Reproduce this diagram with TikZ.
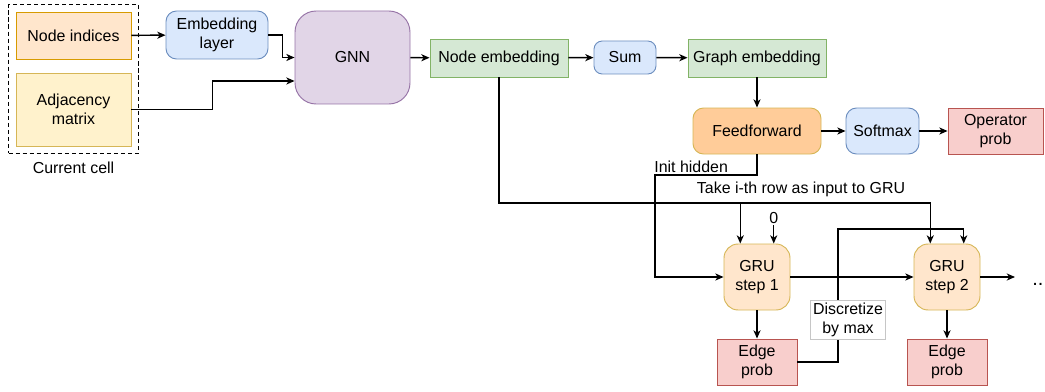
\documentclass[tikz,border=0pt]{standalone}
\usepackage{fontspec}
\setmainfont{Liberation Sans}
\usetikzlibrary{arrows.meta,positioning,fit,calc}

\definecolor{orfill}{HTML}{FFE6CC}
\definecolor{ordraw}{HTML}{D79B00}
\definecolor{yefill}{HTML}{FFF2CC}
\definecolor{yedraw}{HTML}{D6B656}
\definecolor{blfill}{HTML}{DAE8FC}
\definecolor{bldraw}{HTML}{6C8EBF}
\definecolor{pufill}{HTML}{E1D5E7}
\definecolor{pudraw}{HTML}{9673A6}
\definecolor{grfill}{HTML}{D5E8D4}
\definecolor{grdraw}{HTML}{82B366}
\definecolor{refill}{HTML}{F8CECC}
\definecolor{redraw}{HTML}{B85450}
\definecolor{fffill}{HTML}{FFCC99}

\begin{document}
\begin{tikzpicture}[
    x=0.3cm, y=0.3cm,
    font=\fontsize{13.6}{16.2}\selectfont,
    blk/.style={rectangle, draw, line width=0.8pt, align=center, inner sep=2pt},
    rblk/.style={blk, rounded corners=9pt},
    orng/.style={fill=orfill, draw=ordraw},
    yell/.style={fill=yefill, draw=yedraw},
    blue/.style={fill=blfill, draw=bldraw},
    purp/.style={fill=pufill, draw=pudraw},
    gren/.style={fill=grfill, draw=grdraw},
    redd/.style={fill=refill, draw=redraw},
    cellbox/.style={rectangle, draw, line width=1.2pt, dash pattern=on 3.5pt off 2.5pt},
    lbl/.style={inner sep=1pt},
    arr/.style={-{Stealth[length=7pt, width=6pt, inset=2pt]}, line width=1.25pt},
  ]
  \useasboundingbox (0,0) rectangle (104.5,39.1);

  % ===== Inputs =====
  \node[blk, orng, minimum width=3.45cm, minimum height=1.41cm] (idx) at (7.35,35.55) {Node indices};
  \node[blk, yell, minimum width=3.45cm, minimum height=2.19cm] (adj) at (7.35,28.15) {Adjacency\\matrix};
  \node[cellbox, fit=(idx)(adj), inner sep=0.21cm] (cell) {};
  \node[below=3pt of cell] (celllbl) {Current cell};

  % ===== Encoder =====
  \node[rblk, blue, minimum width=3.06cm, minimum height=1.44cm] (emb) at (21.7,35.6) {Embedding\\layer};
  \node[blk, purp, rounded corners=18pt, minimum width=3.45cm, minimum height=2.79cm] (gnn) at (35.25,33.35) {GNN};
  \node[blk, gren, minimum width=4.14cm, minimum height=1.14cm] (nemb) at (49.9,33.3) {Node embedding};
  \node[rblk, blue, rounded corners=7pt, minimum width=1.86cm, minimum height=0.99cm] (sum) at (62.5,33.35) {Sum};
  \node[blk, gren, minimum width=4.14cm, minimum height=1.14cm] (gemb) at (75.7,33.3) {Graph embedding};

  % ===== Operator head =====
  \node[rblk, fill=fffill, draw=yedraw, minimum width=3.84cm, minimum height=1.38cm] (ff) at (75.7,26.0) {Feedforward};
  \node[rblk, blue, minimum width=2.19cm, minimum height=1.38cm] (soft) at (88.25,26.0) {Softmax};
  \node[blk, redd, minimum width=2.85cm, minimum height=1.38cm] (oprob) at (99.55,26.0) {Operator\\prob};

  % ===== Edge decoder =====
  \node[rblk, fill=orfill, draw=yedraw, rounded corners=12pt, minimum width=1.98cm, minimum height=1.98cm] (gru1) at (75.7,11.4) {GRU\\step 1};
  \node[rblk, fill=orfill, draw=yedraw, rounded corners=12pt, minimum width=1.98cm, minimum height=1.98cm] (gru2) at (94.7,11.4) {GRU\\step 2};
  \node[blk, redd, minimum width=2.4cm, minimum height=1.38cm] (ep1) at (75.7,2.9) {Edge\\prob};
  \node[blk, redd, minimum width=2.4cm, minimum height=1.38cm] (ep2) at (94.7,2.9) {Edge\\prob};

  \coordinate (g1a) at ($(gru1.north west)!0.25!(gru1.north east)$);
  \coordinate (g1b) at ($(gru1.north west)!0.75!(gru1.north east)$);
  \coordinate (g2a) at ($(gru2.north west)!0.25!(gru2.north east)$);
  \coordinate (g2b) at ($(gru2.north west)!0.75!(gru2.north east)$);
  \coordinate (gnnlow) at ($(gnn.south west)!0.25!(gnn.north west)$);
  \coordinate (rowy) at (0,18.8);
  \coordinate (hid) at (65.5,21.6);
  \coordinate (dsc) at (83.8,16.2);
  \coordinate (more) at (101.5,11.4);

  \node[lbl] (zero) at ($(g1b)+(0,0.76cm)$) {0};
  \node[lbl, anchor=west] (hidlbl) at (65.3,22.4) {Init hidden};
  \node[lbl] (rowlbl) at (80.1,20.2) {Take i-th row as input to GRU};
  \node[lbl, anchor=base west, font=\fontsize{17}{18}\selectfont] (dots) at (103.1,10.6) {...};

  % Encoder arrows
  \draw[arr] (idx) -- (emb);
  \draw[arr] (emb.east) -- ++(0.42cm,0) |- (gnn.west);
  \draw[arr] (adj.east) -- ++(2.43cm,0) |- (gnnlow);
  \draw[arr] (gnn) -- (nemb);
  \draw[arr] (nemb) -- (sum);
  \draw[arr] (sum) -- (gemb);
  \draw[arr] (gemb) -- (ff);
  \draw[arr] (ff) -- (soft);
  \draw[arr] (soft) -- (oprob);

  % Decoder arrows
  \draw[arr] (ff.south) |- (hid) |- (gru1.west);
  \draw[arr] (nemb.south) |- (rowy -| g2a) -- (g2a);
  \draw[arr] (rowy -| g1a) -- (g1a);
  \draw[arr] (zero) -- (g1b);
  \draw[arr] (gru1) -- (gru2);
  \draw[arr] (gru2) -- (more);
  \draw[arr] (gru1) -- (ep1);
  \draw[arr] (gru2) -- (ep2);
  \draw[arr] (ep1.east) -| (dsc) -| (g2b);

  \node[blk, draw=gray!45, fill=white, line width=0.5pt, minimum width=2.16cm, minimum height=1.08cm] (disc) at (84.8,7.1) {Discretize\\by max};

\end{tikzpicture}
\end{document}
